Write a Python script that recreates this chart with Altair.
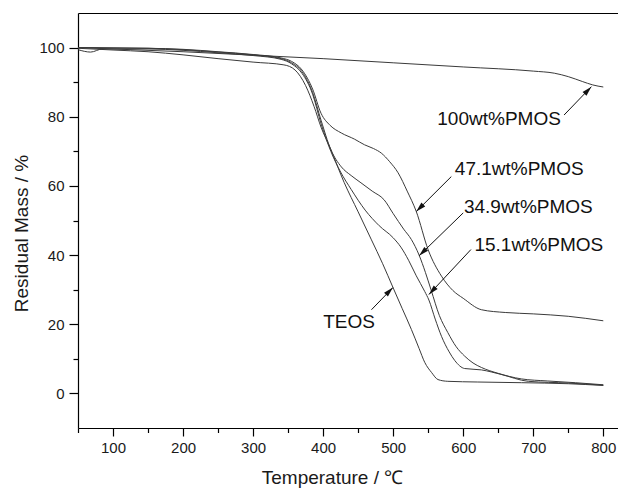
import math
import altair as alt
import pandas as pd

# ---------------- data ----------------
series_names = ["100wt%PMOS", "47.1wt%PMOS", "34.9wt%PMOS", "15.1wt%PMOS", "TEOS"]

t_100 = [50, 100, 200, 300, 400, 500, 600, 700, 730, 750, 770, 785, 800]
m_100 = [100, 99.6, 98.8, 97.8, 96.8, 95.6, 94.4, 93.2, 92.6, 91.6, 90.2, 89.2, 88.6]

t_471 = [50, 100, 150, 200, 250, 300, 340, 355, 370, 385, 397, 410, 426, 445, 459, 472, 483,
         495, 507, 520, 533, 550, 569, 585, 600, 626, 660, 700, 750, 800]
m_471 = [100, 99.9, 99.8, 99.5, 98.8, 98.0, 97.0, 96.0, 93.5, 88.0, 81.0, 77.5, 75.3, 73.5,
         71.9, 70.8, 69.5, 67.0, 63.8, 58.5, 52.6, 41.5, 33.9, 29.8, 27.5, 24.2, 23.4, 23.0,
         22.3, 21.0]

t_349 = [50, 100, 150, 200, 250, 300, 340, 355, 370, 385, 397, 411, 426, 440, 454, 470, 487,
         500, 515, 526, 537, 546, 554, 566, 578, 590, 602, 614, 626, 650, 683, 720, 760, 800]
m_349 = [100, 99.9, 99.8, 99.4, 98.7, 97.9, 96.8, 95.6, 93.0, 87.0, 79.0, 70.5, 65.5, 63.0,
         60.9, 58.5, 56.0, 52.0, 47.5, 44.5, 40.0, 35.0, 30.0, 22.5, 17.6, 13.5, 10.8, 8.8,
         7.5, 5.8, 4.2, 3.6, 3.1, 2.5]

t_151 = [50, 68, 85, 150, 200, 250, 300, 340, 355, 370, 385, 397, 411, 425, 440, 460, 480,
         500, 511, 522, 533, 545, 551, 560, 569, 580, 588, 602, 626, 654, 693, 750, 800]
m_151 = [99.4, 98.7, 99.6, 99.6, 99.2, 98.5, 97.7, 96.6, 95.3, 92.5, 86.5, 78.0, 70.0, 64.0,
         59.0, 53.0, 48.5, 45.0, 42.3, 38.5, 34.0, 29.5, 27.0, 21.5, 16.5, 12.0, 9.5, 7.2,
         6.8, 5.5, 3.5, 3.0, 2.4]

t_teos = [50, 100, 150, 200, 250, 300, 344, 360, 375, 387, 397, 410, 430, 450, 469, 485, 500,
          513, 526, 537, 545, 555, 564, 578, 620, 683, 750, 800]
m_teos = [99.8, 99.3, 98.8, 97.9, 96.8, 95.8, 95.0, 93.5, 89.0, 83.0, 77.0, 71.0, 61.0, 52.5,
          44.4, 37.5, 30.5, 24.5, 18.5, 13.0, 9.0, 6.0, 4.0, 3.5, 3.3, 3.1, 2.8, 2.3]

# annotation texts and arrows (data units)
label_text = ["100wt%PMOS", "47.1wt%PMOS", "34.9wt%PMOS", "15.1wt%PMOS", "TEOS"]
label_x = [563, 588, 601, 616, 400]
label_y = [79.4, 64.8, 53.8, 43.0, 20.6]
arrow_x0 = [744, 583, 600, 611, 469]
arrow_y0 = [80.5, 62.7, 52.2, 41.6, 24.2]
arrow_x1 = [783, 533, 537, 551, 499.6]
arrow_y1 = [88.7, 52.6, 39.8, 28.6, 30.6]

x_major = [100, 200, 300, 400, 500, 600, 700, 800]
x_minor = [50, 150, 250, 350, 450, 550, 650, 750]
y_major = [0, 20, 40, 60, 80, 100]
y_minor = [10, 30, 50, 70, 90]

# ---------------- build tables ----------------
rows = []
for name, ts, ms in zip(series_names,
                        [t_100, t_471, t_349, t_151, t_teos],
                        [m_100, m_471, m_349, m_151, m_teos]):
    for i, (t, m) in enumerate(zip(ts, ms)):
        rows.append({"series": name, "T": t, "M": m, "idx": i})
df = pd.DataFrame(rows)

X_DOMAIN = [50, 821]
Y_DOMAIN = [-10, 110]
W, H = 540, 415
sx = W / (X_DOMAIN[1] - X_DOMAIN[0])
sy = H / (Y_DOMAIN[1] - Y_DOMAIN[0])

angles = []
for x0, y0, x1, y1 in zip(arrow_x0, arrow_y0, arrow_x1, arrow_y1):
    dx = (x1 - x0) * sx
    dy = -(y1 - y0) * sy
    angles.append(math.degrees(math.atan2(dx, -dy)) % 360)

ann = pd.DataFrame({
    "text": label_text, "lx": label_x, "ly": label_y,
    "x0": arrow_x0, "y0": arrow_y0, "x1": arrow_x1, "y1": arrow_y1, "ang": angles,
})

xscale = alt.Scale(domain=X_DOMAIN, nice=False, zero=False)
yscale = alt.Scale(domain=Y_DOMAIN, nice=False, zero=False)
FONT = "Liberation Sans"

lines = alt.Chart(df).mark_line(color="#3a3a3a", strokeWidth=1, interpolate="monotone").encode(
    x=alt.X("T:Q", scale=xscale,
            axis=alt.Axis(orient="bottom", values=x_major, format="d", tickSize=8,
                          labelPadding=4, title="Temperature / ℃",
                          titleX=254, titleY=55, titleBaseline="alphabetic")),
    y=alt.Y("M:Q", scale=yscale,
            axis=alt.Axis(orient="left", values=y_major, format="d", tickSize=9,
                          labelPadding=5, title="Residual Mass / %",
                          titleX=-51, titleY=220, titleBaseline="alphabetic")),
    detail="series:N",
    order="idx:Q",
)

minor = alt.Chart(df).mark_point(opacity=0, size=1).encode(
    x=alt.X("T:Q", scale=xscale,
            axis=alt.Axis(orient="bottom", values=x_minor, labels=False, tickSize=4.5,
                          domain=False, title=None)),
    y=alt.Y("M:Q", scale=yscale,
            axis=alt.Axis(orient="left", values=y_minor, labels=False, tickSize=5,
                          domain=False, title=None)),
)

top = alt.Chart(df).mark_point(opacity=0, size=1).encode(
    x=alt.X("T:Q", scale=xscale,
            axis=alt.Axis(orient="top", labels=False, ticks=False, title=None)),
    y=alt.Y("M:Q", scale=yscale, axis=None),
)

arrows = alt.Chart(ann).mark_rule(color="#111", strokeWidth=1).encode(
    x=alt.X("x0:Q", scale=xscale, axis=None),
    y=alt.Y("y0:Q", scale=yscale, axis=None),
    x2="x1:Q",
    y2="y1:Q",
)

heads = alt.Chart(ann).mark_point(
    shape="M0,0L-0.6,2.2L0.6,2.2Z", filled=True, color="#111", opacity=1, size=81
).encode(
    x=alt.X("x1:Q", scale=xscale, axis=None),
    y=alt.Y("y1:Q", scale=yscale, axis=None),
    angle=alt.Angle("ang:Q", scale=None),
)

labels = alt.Chart(ann).mark_text(
    align="left", baseline="middle", font=FONT, fontSize=19, color="#111"
).encode(
    x=alt.X("lx:Q", scale=xscale, axis=None),
    y=alt.Y("ly:Q", scale=yscale, axis=None),
    text="text:N",
)

chart = alt.layer(lines, minor, top, arrows, heads, labels).resolve_axis(
    x="independent", y="independent"
).properties(
    width=W, height=H,
    padding={"left": 70, "top": 5, "right": 0, "bottom": 60},
    autosize=alt.AutoSizeParams(type="none"),
).configure_view(stroke=None).configure_axis(
    grid=False,
    domainColor="#000", domainWidth=1.2,
    tickColor="#000", tickWidth=1.2,
    labelFont=FONT, labelFontSize=15, labelColor="#1a1a1a",
    titleFont=FONT, titleFontSize=19, titleFontWeight="normal", titleColor="#1a1a1a",
)

chart.save("out.html", embed_options={"renderer": "svg", "actions": False})
